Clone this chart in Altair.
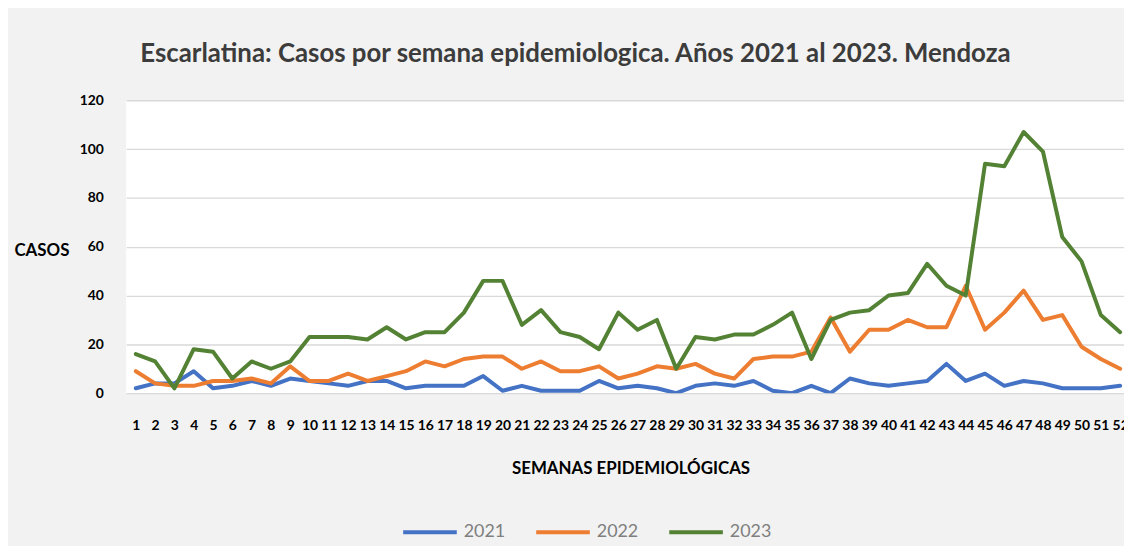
import altair as alt
import pandas as pd

weeks = list(range(1, 53))
casos_2021 = [2, 4, 4, 9, 2, 3, 5, 3, 6, 5,
              4, 3, 5, 5, 2, 3, 3, 3, 7, 1,
              3, 1, 1, 1, 5, 2, 3, 2, 0, 3,
              4, 3, 5, 1, 0, 3, 0, 6, 4, 3,
              4, 5, 12, 5, 8, 3, 5, 4, 2, 2,
              2, 3]
casos_2022 = [9, 4, 3, 3, 5, 5, 6, 4, 11, 5,
              5, 8, 5, 7, 9, 13, 11, 14, 15, 15,
              10, 13, 9, 9, 11, 6, 8, 11, 10, 12,
              8, 6, 14, 15, 15, 17, 31, 17, 26, 26,
              30, 27, 27, 44, 26, 33, 42, 30, 32, 19,
              14, 10]
casos_2023 = [16, 13, 2, 18, 17, 6, 13, 10, 13, 23,
              23, 23, 22, 27, 22, 25, 25, 33, 46, 46,
              28, 34, 25, 23, 18, 33, 26, 30, 10, 23,
              22, 24, 24, 28, 33, 14, 30, 33, 34, 40,
              41, 53, 44, 40, 94, 93, 107, 99, 64, 54,
              32, 25]
years = ["2021", "2022", "2023"]
colors = ["#4472C4", "#ED7D31", "#548235"]
y_ticks = [0, 20, 40, 60, 80, 100, 120]

rows = []
for year, series in zip(years, [casos_2021, casos_2022, casos_2023]):
    for w, v in zip(weeks, series):
        rows.append({"semana": w, "casos": v, "anio": year})
df = pd.DataFrame(rows)

FONT = "Lato"

chart = alt.Chart(df).mark_line(strokeWidth=4, strokeJoin="round", strokeCap="round", clip=True).encode(
    x=alt.X("semana:Q",
            scale=alt.Scale(domain=[0.5, 52.2], nice=False, zero=False),
            axis=alt.Axis(values=weeks, format="d", grid=False, domain=False, ticks=False, tickSize=0,
                          labelOverlap=False, labelFlush=False, labelBound=False,
                          labelFont=FONT, labelFontWeight="bold", labelFontSize=14, labelColor="#000000",
                          labelBaseline="middle", labelPadding=33,
                          title="SEMANAS EPIDEMIOLÓGICAS", titleFont=FONT, titleFontWeight="bold",
                          titleFontSize=17, titleColor="#000000", titleX=508, titleY=76,
                          titleAlign="center", titleBaseline="middle")),
    y=alt.Y("casos:Q",
            scale=alt.Scale(domain=[0, 120], nice=False),
            axis=alt.Axis(values=y_ticks, grid=True, gridColor="#d9d9d9", gridWidth=1.3,
                          domain=False, ticks=False, tickSize=0,
                          labelFont=FONT, labelFontWeight="bold", labelFontSize=14, labelColor="#000000",
                          labelPadding=23,
                          title="CASOS", titleAngle=0, titleFont=FONT, titleFontWeight="bold",
                          titleFontSize=17, titleColor="#000000", titleX=-113, titleY=151,
                          titleAlign="left", titleBaseline="middle")),
    color=alt.Color("anio:N", scale=alt.Scale(domain=years, range=colors),
                    legend=alt.Legend(orient="none", legendX=277, legendY=406, direction="horizontal",
                                      title=None, symbolType="stroke", symbolSize=2916,
                                      symbolStrokeWidth=4, labelFont=FONT, labelFontSize=18,
                                      labelColor="#7f7f7f", labelOffset=5, columnPadding=23)),
).properties(
    width=1005,
    height=295,
    title=alt.TitleParams("Escarlatina: Casos por semana epidemiologica. Años 2021 al 2023. Mendoza",
                          font=FONT, fontSize=26, fontWeight="bold", color="#3c3c3c",
                          anchor="middle", dx=-50, offset=27),
    autosize=alt.AutoSizeParams(type="none"),
    padding={"left": 119, "top": 91, "right": 0, "bottom": 152},
    background="#f2f2f2",
).configure_view(fill="#ffffff", stroke=None)

chart.save("out.html", embed_options={"renderer": "svg", "actions": False})
